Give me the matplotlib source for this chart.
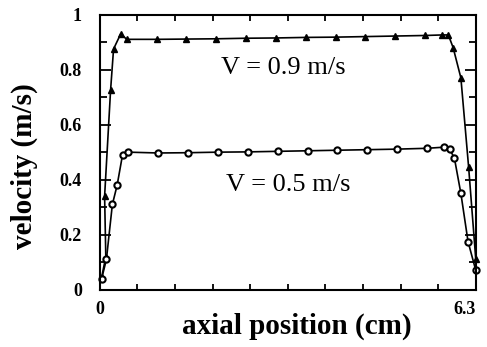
import matplotlib.pyplot as plt
import numpy as np

# vitesse 0.9 m/s (triangles)
x_fast = [0.03, 0.10, 0.08, 0.18, 0.23, 0.35, 0.45, 0.95, 1.45, 1.95, 2.45, 2.95,
          3.45, 3.95, 4.45, 4.95, 5.45, 5.74, 5.84, 5.92, 6.05, 6.18, 6.30]
v_fast = [0.045, 0.12, 0.34, 0.725, 0.875, 0.93, 0.91, 0.91, 0.911, 0.912, 0.914, 0.915,
          0.917, 0.918, 0.92, 0.922, 0.924, 0.926, 0.926, 0.88, 0.77, 0.445, 0.11]

# vitesse 0.5 m/s (cercles)
x_slow = [0.03, 0.11, 0.21, 0.29, 0.38, 0.48, 0.98, 1.48, 1.98, 2.48, 2.98,
          3.48, 3.98, 4.48, 4.98, 5.48, 5.76, 5.86, 5.94, 6.05, 6.17, 6.30]
v_slow = [0.04, 0.11, 0.31, 0.38, 0.49, 0.50, 0.497, 0.498, 0.50, 0.501, 0.503,
          0.505, 0.507, 0.509, 0.511, 0.514, 0.518, 0.51, 0.48, 0.35, 0.175, 0.07]

x_ticks = [0.63 * i for i in range(11)]

plt.rcParams['font.family'] = 'Liberation Serif'

fig = plt.figure(figsize=(4.87, 3.47), dpi=100)
ax = fig.add_axes([0.205, 0.165, 0.772, 0.793])

ax.plot(x_fast, v_fast, color='black', lw=1.2, marker='^', ms=5,
        mfc='black', mec='black', clip_on=False)
ax.plot(x_slow, v_slow, color='black', lw=1.2, marker='o', ms=4.5,
        mfc='white', mec='black', mew=1.5, clip_on=False)

ax.text(3.08, 0.805, 'V = 0.9 m/s', fontsize=19, ha='center', va='center')
ax.text(3.15, 0.38, 'V = 0.5 m/s', fontsize=19, ha='center', va='center')

ax.set_xlim(0, 6.3)
ax.set_ylim(0, 1)

ax.set_xticks(x_ticks)
ax.set_xticklabels(['0'] + [''] * 9 + ['6.3'])
ax.set_yticks([0, 0.2, 0.4, 0.6, 0.8, 1.0])
ax.set_yticklabels(['0', '0.2', '0.4', '0.6', '0.8', '1'])
ax.set_yticks([0.1, 0.3, 0.5, 0.7, 0.9], minor=True)

ax.tick_params(axis='y', which='major', direction='in', length=8, width=1.3,
               left=True, right=True, labelsize=13, pad=13)
ax.tick_params(axis='y', which='minor', direction='in', length=5, width=1.3,
               left=True, right=True)
ax.tick_params(axis='x', which='major', direction='in', length=4, width=1.3,
               top=True, bottom=True, labelsize=13, pad=8)
for lab in ax.get_xticklabels() + ax.get_yticklabels():
    lab.set_fontweight('bold')
ax.get_xticklabels()[-1].set_horizontalalignment('right')

for sp in ax.spines.values():
    sp.set_linewidth(1.5)

ax.set_xlabel('axial position (cm)', fontsize=21, fontweight='bold')
ax.set_ylabel('velocity (m/s)', fontsize=21, fontweight='bold')
ax.xaxis.set_label_coords(0.523, -0.083)
ax.yaxis.set_label_coords(-0.165, 0.449)

fig.savefig('out.png', dpi=100)
